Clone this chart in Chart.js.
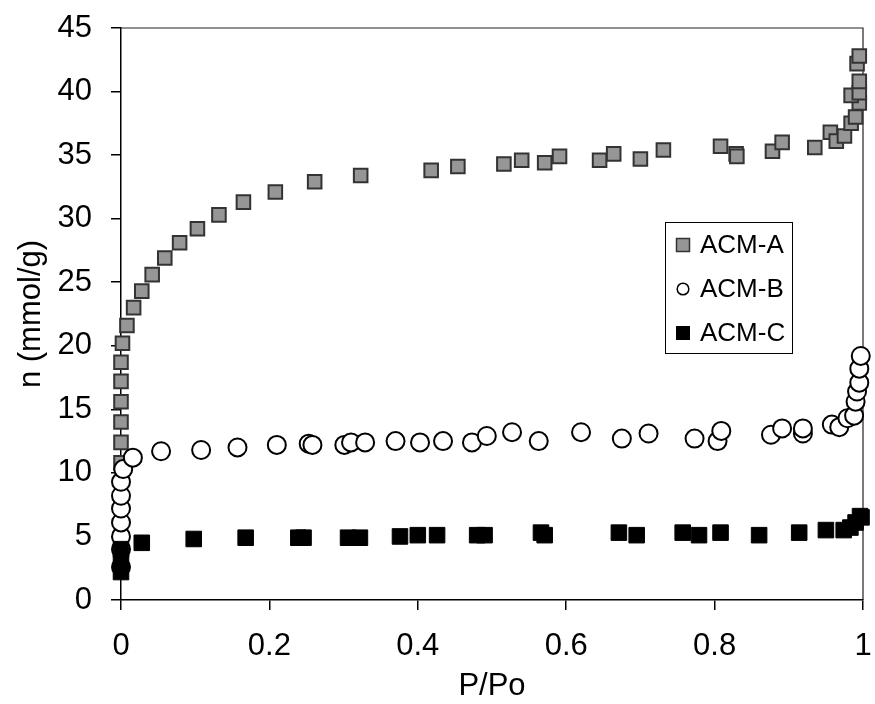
<!DOCTYPE html>
<html>
<head>
<meta charset="utf-8">
<script src="https://cdn.jsdelivr.net/npm/chart.js@4"></script>
<style>
  html, body { margin: 0; padding: 0; background: #fff; }
  #wrap { width: 875px; height: 704px; }
</style>
</head>
<body>
<div id="wrap"><canvas id="chart" width="875" height="704"></canvas></div>
<script>
// series (P/Po, n in mmol/g)
const seriesNames = ['ACM-A', 'ACM-B', 'ACM-C'];

const aX = [0, 0, 0, 0, 0, 0, 0.002, 0.008, 0.017, 0.028, 0.042, 0.059, 0.079, 0.103, 0.132, 0.165,
  0.208, 0.261, 0.323, 0.418, 0.454, 0.516, 0.540, 0.571, 0.591, 0.645, 0.664, 0.700, 0.731, 0.808,
  0.829, 0.830, 0.878, 0.891, 0.935, 0.956, 0.964, 0.975, 0.984, 0.990, 0.995, 0.984, 0.995, 0.995,
  0.992, 0.995];
const aY = [10.8, 12.4, 14.0, 15.6, 17.2, 18.7, 20.2, 21.6, 23.0, 24.3, 25.6, 26.9, 28.1, 29.2, 30.3, 31.3,
  32.1, 32.9, 33.4, 33.8, 34.1, 34.3, 34.6, 34.4, 34.9, 34.6, 35.1, 34.7, 35.4, 35.7,
  35.1, 34.9, 35.3, 36.0, 35.6, 36.8, 36.1, 36.5, 37.5, 38.0, 39.1, 39.7, 39.9, 40.8,
  42.2, 42.8];

const bX = [0, 0, 0, 0, 0, 0, 0, 0.003, 0.016, 0.054, 0.108, 0.157, 0.210, 0.253, 0.258, 0.301, 0.310,
  0.329, 0.370, 0.403, 0.434, 0.473, 0.493, 0.527, 0.563, 0.620, 0.675, 0.711, 0.773, 0.804, 0.809,
  0.876, 0.891, 0.919, 0.919, 0.958, 0.968, 0.979, 0.988, 0.990, 0.992, 0.995, 0.995, 0.997];
const bY = [2.6, 4.0, 5.0, 6.1, 7.2, 8.2, 9.3, 10.3, 11.2, 11.7, 11.8, 12.0, 12.2, 12.3, 12.2, 12.2, 12.4,
  12.4, 12.5, 12.4, 12.5, 12.4, 12.9, 13.2, 12.5, 13.2, 12.7, 13.1, 12.7, 12.5, 13.3,
  13.0, 13.5, 13.1, 13.5, 13.8, 13.6, 14.3, 14.5, 15.6, 16.4, 17.1, 18.2, 19.2];

const cX = [0, 0, 0, 0.028, 0.098, 0.168, 0.239, 0.246, 0.306, 0.322, 0.376, 0.400, 0.426, 0.480, 0.490,
  0.566, 0.571, 0.671, 0.695, 0.757, 0.779, 0.808, 0.860, 0.914, 0.950, 0.974, 0.983, 0.990, 0.996, 0.998];
const cY = [2.2, 3.1, 4.0, 4.5, 4.8, 4.9, 4.9, 4.9, 4.9, 4.9, 5.0, 5.1, 5.1, 5.1, 5.1,
  5.3, 5.1, 5.3, 5.1, 5.3, 5.1, 5.3, 5.1, 5.3, 5.5, 5.5, 5.7, 6.1, 6.6, 6.5];

const xTicks = [0, 0.2, 0.4, 0.6, 0.8, 1];
const yTicks = [0, 5, 10, 15, 20, 25, 30, 35, 40, 45];

const FONT = '"Liberation Sans", Arial, sans-serif';

function pts(xs, ys) {
  return xs.map((x, i) => ({ x, y: ys[i] }));
}

const styles = [
  { fill: '#969696', stroke: '#333333', shape: 'rect', radius: 9.6, border: 2 },
  { fill: '#ffffff', stroke: '#000000', shape: 'circle', radius: 9, border: 2 },
  { fill: '#000000', stroke: '#000000', shape: 'rect', radius: 11, border: 1 },
];

// top + right frame of the plot box
const framePlugin = {
  id: 'frame',
  beforeDatasetsDraw(chart) {
    const { ctx, chartArea: a } = chart;
    ctx.save();
    ctx.strokeStyle = '#222';
    ctx.lineWidth = 1.2;
    ctx.beginPath();
    ctx.moveTo(a.left, a.top);
    ctx.lineTo(a.right, a.top);
    ctx.lineTo(a.right, a.bottom);
    ctx.stroke();
    ctx.restore();
  },
};

// boxed legend inside the plot
const legendPlugin = {
  id: 'boxLegend',
  afterDraw(chart) {
    const { ctx } = chart;
    const box = { x: 665, y: 222, w: 127, h: 131 };
    ctx.save();
    ctx.fillStyle = '#fff';
    ctx.fillRect(box.x, box.y, box.w, box.h);
    ctx.strokeStyle = '#000';
    ctx.lineWidth = 1;
    ctx.strokeRect(box.x + 0.5, box.y + 0.5, box.w, box.h);
    const rows = [245, 289, 333];
    const mx = 683;
    seriesNames.forEach((name, i) => {
      const cy = rows[i];
      const s = styles[i];
      ctx.fillStyle = s.fill;
      ctx.strokeStyle = s.stroke;
      ctx.lineWidth = 1.5;
      if (i === 0) {
        ctx.fillRect(mx - 6.5, cy - 6.5, 13, 13);
        ctx.strokeRect(mx - 6.5, cy - 6.5, 13, 13);
      } else if (i === 1) {
        ctx.beginPath();
        ctx.arc(mx, cy, 5.8, 0, Math.PI * 2);
        ctx.fill();
        ctx.stroke();
      } else {
        ctx.fillRect(mx - 7, cy - 7, 14, 14);
      }
      ctx.fillStyle = '#000';
      ctx.font = '26px ' + FONT;
      ctx.textAlign = 'left';
      ctx.textBaseline = 'middle';
      ctx.fillText(name, 700, cy + 1);
    });
    ctx.restore();
  },
};

const datasets = [
  [aX, aY],
  [bX, bY],
  [cX, cY],
].map(([xs, ys], i) => ({
  label: seriesNames[i],
  data: pts(xs, ys),
  showLine: false,
  pointStyle: styles[i].shape,
  pointRadius: styles[i].radius,
  pointHoverRadius: styles[i].radius,
  pointBackgroundColor: styles[i].fill,
  pointBorderColor: styles[i].stroke,
  pointBorderWidth: styles[i].border,
  clip: false,
  order: 3 - i,
}));

new Chart(document.getElementById('chart'), {
  type: 'scatter',
  data: { datasets },
  options: {
    responsive: false,
    animation: false,
    events: [],
    layout: { padding: { top: 28, right: 8, left: 0, bottom: 0 } },
    plugins: {
      legend: { display: false },
      tooltip: { enabled: false },
    },
    scales: {
      x: {
        type: 'linear',
        min: 0,
        max: 1,
        afterFit: (s) => {
          s.height = 104;
          s.paddingLeft = 0;
          s.paddingRight = 0;
        },
        afterBuildTicks: (s) => { s.ticks = xTicks.map((v) => ({ value: v })); },
        border: { display: true, color: '#000', width: 1.5 },
        grid: { drawOnChartArea: false, drawTicks: true, tickLength: 10, color: '#000', lineWidth: 1.5 },
        ticks: {
          color: '#000',
          padding: 18,
          maxRotation: 0,
          font: { family: FONT, size: 31 },
          callback: (v) => String(v),
        },
        title: {
          display: true,
          text: 'P/Po',
          color: '#000',
          font: { family: FONT, size: 31, lineHeight: 1 },
          padding: { top: 0, bottom: 2 },
        },
      },
      y: {
        type: 'linear',
        min: 0,
        max: 45,
        afterFit: (s) => {
          s.width = 121;
          s.paddingTop = 0;
          s.paddingBottom = 0;
        },
        afterBuildTicks: (s) => { s.ticks = yTicks.map((v) => ({ value: v })); },
        border: { display: true, color: '#000', width: 1.5 },
        grid: { drawOnChartArea: false, drawTicks: true, tickLength: 10, color: '#000', lineWidth: 1.5 },
        ticks: {
          color: '#000',
          padding: 19,
          font: { family: FONT, size: 31 },
          callback: (v) => String(v),
        },
        title: {
          display: true,
          text: 'n (mmol/g)',
          color: '#000',
          font: { family: FONT, size: 31, lineHeight: 1 },
          padding: { top: 16, bottom: 0 },
        },
      },
    },
  },
  plugins: [framePlugin, legendPlugin],
});
</script>
</body>
</html>
